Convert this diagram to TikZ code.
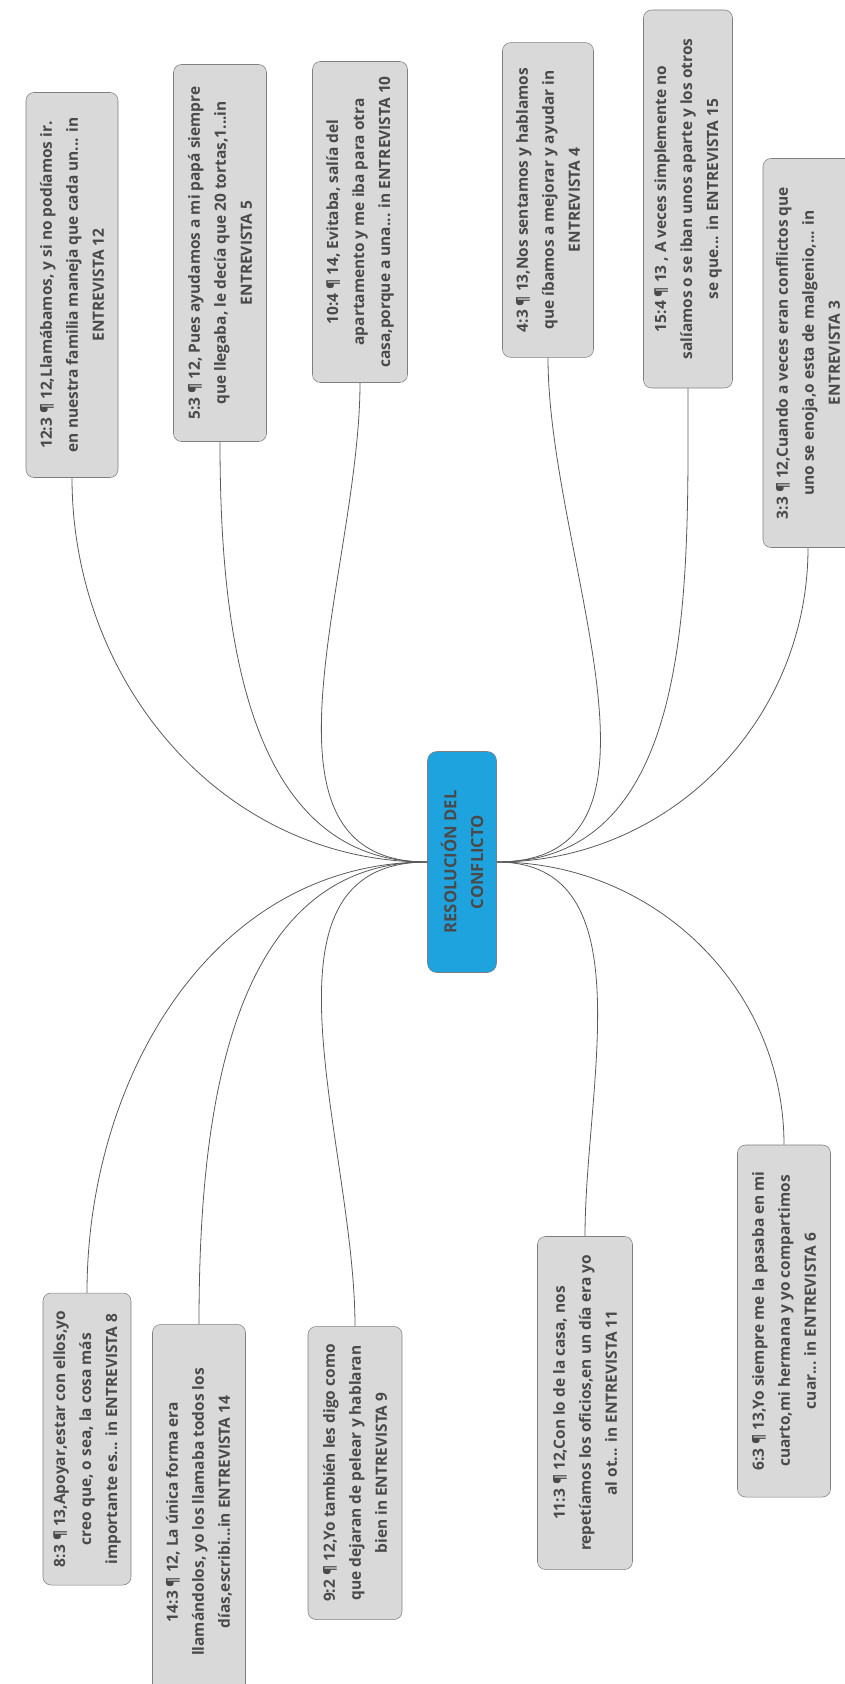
\documentclass[tikz,border=0pt]{standalone}
\usepackage{fontspec}
\setmainfont{Open Sans}
\usepackage{tikz}
\usetikzlibrary{positioning}

\definecolor{boxfill}{HTML}{D9D9D9}
\definecolor{boxline}{HTML}{7F7F7F}
\definecolor{txtgray}{HTML}{4A4A4A}
\definecolor{hubblue}{HTML}{1FA3DE}
\definecolor{linkgray}{HTML}{5A5A5A}

\begin{document}
\begin{tikzpicture}[x=0.75pt, y=0.75pt,
    quote/.style={draw=boxline, fill=boxfill, rounded corners=6pt, rotate=90, align=center, text=txtgray, font=\bfseries\fontsize{11.6}{19.5}\selectfont, inner sep=0pt},
    hub/.style={draw=boxline, fill=hubblue, rounded corners=7pt, rotate=90, align=center, text=txtgray, font=\bfseries\fontsize{12.5}{20}\selectfont, inner sep=0pt, minimum width=165.75pt, minimum height=51.75pt},
    link/.style={draw=linkgray, line width=0.6pt}
]
\useasboundingbox (0,0) rectangle (844,-1684);

% centre
\node[hub] (hub) at (462,-862) {RESOLUCIÓN DEL\\CONFLICTO};

% upper quotes
\node[quote, minimum width=288.75pt, minimum height=69pt] (q12) at (72,-285) {12:3 ¶ 12,Llamábamos, y si no podíamos ir.\\en nuestra familia maneja que cada un... in\\ENTREVISTA 12};
\node[quote, minimum width=282.75pt, minimum height=69.75pt] (q5) at (220,-253) {5:3 ¶ 12, Pues ayudamos a mi papá siempre\\que llegaba, le decía que 20 tortas,1...in\\ENTREVISTA 5};
\node[quote, minimum width=240.75pt, minimum height=71.25pt] (q10) at (360,-222) {10:4 ¶ 14, Evitaba, salía del\\apartamento y me iba para otra\\casa,porque a una... in ENTREVISTA 10};
\node[quote, minimum width=236pt, minimum height=68.25pt] (q4) at (548,-200) {4:3 ¶ 13,Nos sentamos y hablamos\\que íbamos a mejorar y ayudar in\\ENTREVISTA 4};
\node[quote, minimum width=283.5pt, minimum height=66.75pt] (q15) at (688,-199) {15:4 ¶ 13 , A veces simplemente no\\salíamos o se iban unos aparte y los otros\\se que... in ENTREVISTA 15};
\node[quote, minimum width=291.75pt, minimum height=67.5pt] (q3) at (808,-353) {3:3 ¶ 12,Cuando a veces eran conflictos que\\uno se enoja,o esta de malgenio,... in\\ENTREVISTA 3};

% lower quotes
\node[quote, minimum width=219pt, minimum height=66pt] (q8) at (87,-1439) {8:3 ¶ 13,Apoyar,estar con ellos,yo\\creo que, o sea, la cosa más\\importante es... in ENTREVISTA 8};
\node[quote, minimum width=281.25pt, minimum height=69.75pt] (q14) at (199,-1512) {14:3 ¶ 12, La única forma era\\llamándolos, yo los llamaba todos los\\días,escribi...in ENTREVISTA 14};
\node[quote, minimum width=219.75pt, minimum height=70.5pt] (q9) at (355,-1473) {9:2 ¶ 12,Yo también les digo como\\que dejaran de pelear y hablaran\\bien in ENTREVISTA 9};
\node[quote, minimum width=249.75pt, minimum height=71.25pt] (q11) at (585,-1403) {11:3 ¶ 12,Con lo de la casa, nos\\repetíamos los oficios,en un día era yo\\al ot... in ENTREVISTA 11};
\node[quote, minimum width=264pt, minimum height=69.75pt] (q6) at (784,-1321) {6:3 ¶ 13,Yo siempre me la pasaba en mi\\cuarto,mi hermana y yo compartimos\\cuar... in ENTREVISTA 6};

% links
\foreach \q in {q12,q5,q10}
    \draw[link] (hub.north) to[out=180, in=-90] (\q.west);
\foreach \q in {q4,q15,q3}
    \draw[link] (hub.south) to[out=0, in=-90] (\q.west);
\foreach \q in {q8,q14,q9}
    \draw[link] (hub.north) to[out=180, in=90] (\q.east);
\foreach \q in {q11,q6}
    \draw[link] (hub.south) to[out=0, in=90] (\q.east);
\end{tikzpicture}
\end{document}
